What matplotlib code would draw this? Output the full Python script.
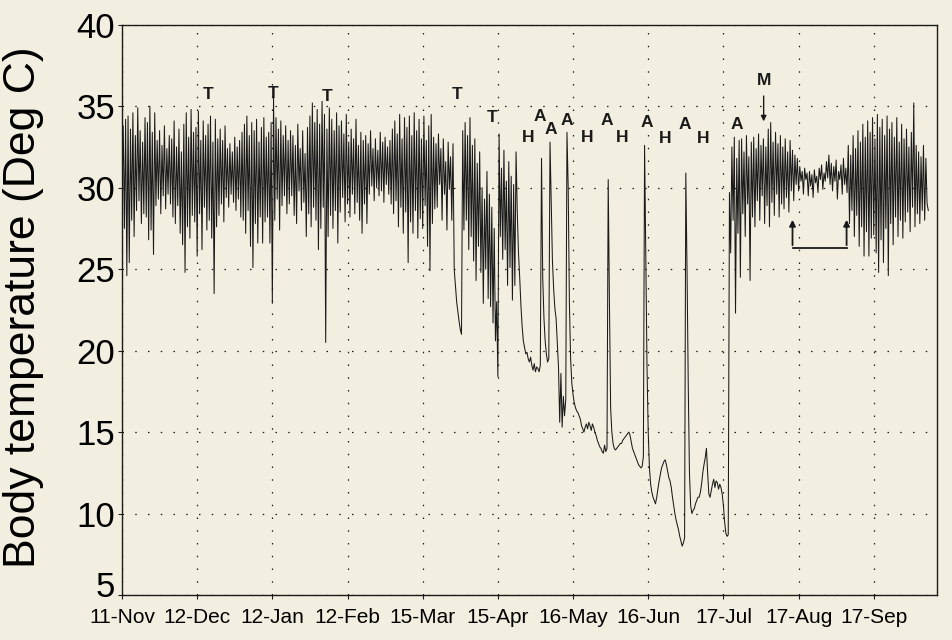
import numpy as np
import matplotlib
matplotlib.use("Agg")
import matplotlib.pyplot as plt
from matplotlib.transforms import ScaledTranslation

# Body temperature readings, one at 00:00 and one at 12:00 of each day,
# day 0 = 11-Nov.
tb_0h = [
    29.8, 27.5, 24.6, 25.4, 28.0, 27.0, 28.6, 29.2, 27.8, 28.4,
    28.2, 26.8, 27.4, 25.9, 28.9, 29.3, 28.4, 29.5, 28.7, 29.6,
    29.0, 28.2, 27.8, 28.9, 27.2, 26.5, 24.8, 27.6, 26.9, 28.3,
    27.9, 25.8, 28.4, 26.2, 28.8, 27.4, 28.0, 26.9, 23.5, 27.6,
    28.3, 29.0, 27.9, 29.4, 28.8, 29.6, 29.1, 28.6, 29.3, 28.2,
    28.0, 27.2, 28.6, 26.4, 25.1, 27.8, 26.6, 28.2, 26.6, 27.9,
    28.2, 26.6, 22.9, 28.0, 29.3, 27.4, 28.9, 29.5, 28.4, 29.0,
    29.5, 28.3, 27.8, 29.8, 28.6, 29.1, 27.0, 28.4, 27.6, 28.8,
    28.0, 26.2, 27.5, 28.8, 20.5, 27.0, 28.3, 27.5, 28.6, 26.6,
    28.5, 29.4, 27.9, 29.0, 28.2, 29.6, 28.4, 29.1, 28.0, 27.2,
    29.0, 27.8, 29.6, 30.1, 29.2, 30.0, 29.5, 29.8, 29.1, 30.2,
    29.6, 29.0, 28.4, 29.2, 27.6, 28.8, 27.2, 28.5, 25.4, 27.9,
    27.2, 28.6, 26.9, 28.1, 27.5, 28.9, 26.4, 24.9, 27.8, 28.7,
    28.8, 30.2, 28.0, 29.6, 27.4, 29.9, 28.0, 25.0, 23.0, 21.8,
    21.0, 27.4, 28.0, 26.2, 27.0, 25.5, 24.3, 26.4, 24.8, 22.9,
    25.0, 23.2, 22.7, 21.7, 20.6, 18.4, 27.0, 25.6, 26.2, 24.0,
    25.1, 23.1, 24.0, 28.5, 24.5, 21.5, 20.2, 19.9, 19.3, 19.1,
    19.2, 19.0, 18.7, 31.8, 22.0, 19.8, 19.5, 29.0, 23.8, 22.0,
    19.0, 18.6, 17.2, 17.0, 30.0, 19.5, 17.3, 16.5, 16.2, 15.8,
    15.2, 15.3, 15.2, 15.4, 15.5, 15.0, 14.5, 14.1, 13.8, 14.2,
    14.0, 23.0, 15.0, 14.0, 14.0, 14.2, 14.3, 14.6, 14.8, 15.0,
    14.4, 13.8, 13.4, 13.0, 12.8, 13.5, 26.0, 15.0, 11.8, 11.0,
    10.6, 11.5, 12.4, 13.0, 13.3, 12.6, 12.0, 11.0, 10.0, 9.3,
    8.6, 8.0, 8.5, 25.0, 12.5, 10.0, 10.3, 10.8, 11.0, 11.8,
    13.0, 14.0, 11.2, 11.4, 12.1, 12.0, 11.5, 11.6, 10.5, 8.8,
    8.7, 26.0, 28.0, 22.3, 27.2, 24.5, 28.4, 27.0, 29.0, 24.3,
    28.2, 27.6, 29.2, 28.0, 29.5, 27.8, 28.9, 27.6, 29.1, 28.3,
    29.6, 28.2, 29.0, 28.7, 29.4, 28.5, 29.8, 29.2, 30.2, 29.8,
    30.4, 29.6, 30.5, 29.5, 30.1, 29.4, 30.3, 29.7, 30.5, 29.9,
    30.4, 30.6, 30.2, 29.8, 30.4, 29.3, 30.5, 29.6, 30.2, 29.7,
    27.8, 28.6, 27.0, 28.3, 26.4, 27.6, 25.8, 27.3, 25.8, 26.9,
    27.1, 26.0, 24.8, 26.8, 25.4, 27.5, 24.6, 27.8, 26.5, 28.2,
    27.0, 28.0, 26.9, 27.9, 28.5, 27.3, 28.8, 27.6, 28.4, 27.8,
    28.6, 28.0, 29.0,
]
tb_12h = [
    33.8, 34.2, 34.4, 33.6, 34.6, 33.2, 34.9, 33.5, 32.8, 34.3,
    34.0, 35.0, 33.4, 34.6, 32.9, 33.5, 32.6, 33.8, 32.4, 33.2,
    33.0, 34.1, 32.5, 33.6, 32.2, 33.9, 34.6, 33.1, 34.8, 33.4,
    33.7, 34.7, 32.9, 34.1, 33.2, 33.9, 34.4, 32.8, 34.2, 33.0,
    33.6, 32.9, 33.8, 32.4, 32.7, 32.2, 33.1, 32.5, 32.9, 33.4,
    33.9, 34.4, 33.2, 34.0, 33.5, 34.2, 32.8, 33.7, 34.3, 33.1,
    33.4, 34.0, 35.6, 34.3, 33.6, 34.1, 33.2, 33.8, 32.9, 33.5,
    33.2, 32.6, 33.9, 32.4, 33.5, 32.1, 33.7, 34.4, 35.2, 34.0,
    34.8, 33.9, 35.3, 34.5, 33.6, 34.9, 34.2, 33.5, 34.6, 33.8,
    34.1, 33.3, 34.5, 32.8, 33.6, 33.0, 34.2, 32.6, 33.4, 32.9,
    33.2, 32.7, 33.5, 32.4, 33.0, 32.3, 33.4, 32.8, 33.1, 32.5,
    32.9, 33.6, 34.1, 33.3, 34.5, 33.0, 34.3, 33.7, 34.4, 33.2,
    34.6, 33.5, 34.2, 33.0, 34.4, 32.9, 33.8, 34.5, 33.1, 32.7,
    33.3, 32.4, 33.0, 31.6, 32.8, 31.9, 32.7, 24.0, 22.4, 21.3,
    33.5, 34.0, 33.2, 34.3, 32.6, 33.0, 31.5, 32.2, 30.0, 29.3,
    31.0, 29.6, 28.8, 27.5, 23.0, 33.3, 31.2, 32.3, 30.4, 31.6,
    30.7, 30.2, 32.2, 26.0, 22.8, 20.6, 19.8, 19.5, 19.6, 18.8,
    18.7, 18.9, 19.1, 24.5, 20.6, 19.3, 32.8, 25.5, 22.6, 20.5,
    15.6, 15.3, 16.0, 33.4, 22.9, 18.0, 16.8, 16.3, 16.0, 15.4,
    15.0, 15.5, 15.6, 15.1, 15.3, 14.8, 14.3, 14.0, 13.7, 13.8,
    30.5, 16.5, 14.3, 13.9, 14.1, 14.3, 14.5, 14.7, 14.9, 14.8,
    14.0, 13.6, 13.2, 12.9, 12.9, 32.6, 19.0, 12.8, 11.3, 10.8,
    11.0, 12.0, 12.8, 13.2, 13.0, 12.2, 11.6, 10.5, 9.6, 9.0,
    8.3, 8.2, 30.9, 18.0, 10.5, 10.2, 10.6, 11.0, 11.3, 12.5,
    13.4, 12.5, 11.0, 11.8, 11.6, 11.9, 11.8, 11.2, 9.5, 8.6,
    29.7, 32.5, 33.1, 31.8, 32.9, 33.0, 32.2, 33.2, 31.9, 32.8,
    33.1, 32.4, 33.3, 32.6, 33.0, 32.5, 33.6, 34.0, 32.8, 33.4,
    32.7, 33.2, 32.5, 33.0, 32.2, 32.9, 32.3, 32.0, 31.8, 31.3,
    31.0, 31.2, 30.9, 31.0, 30.8, 31.1, 30.7, 31.2, 31.4, 30.9,
    31.6, 32.0, 31.5, 31.3, 31.7, 31.0, 31.4, 31.8, 31.2, 32.6,
    32.0, 33.2, 32.4, 33.5, 32.8, 33.9, 33.1, 34.1, 33.4, 34.3,
    33.0, 34.5, 33.7, 34.2, 33.2, 34.4, 33.6, 34.0, 33.1, 34.3,
    32.8, 33.9, 33.0, 33.6, 32.5, 33.4, 35.2, 32.6, 32.2, 31.9,
    32.6, 31.8, 28.6,
]

# x axis: days since 11-Nov, labels every 31 days
tick_days = [0, 31, 62, 93, 124, 155, 186, 217, 248, 279, 310]
tick_labels = ["11-Nov", "12-Dec", "12-Jan", "12-Feb", "15-Mar", "15-Apr",
               "16-May", "16-Jun", "17-Jul", "17-Aug", "17-Sep"]

# Event letters (T = torpor, H = hibernation, A = arousal) above the trace
event_text = ["T", "T", "T", "T", "T", "H", "A", "A", "A", "H", "A", "H",
              "A", "H", "A", "H", "A"]
event_day = [35.6, 62.3, 84.7, 138.1, 152.6, 167.3, 172.3, 176.9, 183.5,
             192.0, 200.0, 206.3, 216.5, 224.1, 231.9, 239.5, 253.4]
event_tb = [35.7, 35.8, 35.6, 35.7, 34.3, 33.1, 34.4, 33.6, 34.1, 33.1,
            34.1, 33.1, 34.0, 33.0, 33.9, 33.0, 33.9]

# "M" marker and bracket under the calm stretch in August
m_day, m_text_tb, m_tip_tb = 264.6, 36.6, 33.9
bracket_days = [276.5, 298.8]
bracket_low, bracket_tip = 26.3, 28.2

bg = "#f3efe0"
ink = "#1a1a1a"

days = np.arange(len(tb_0h))
t = np.column_stack((days, days + 0.5)).ravel()
tb = np.column_stack((tb_0h, tb_12h)).ravel()

fig = plt.figure(figsize=(9.53, 6.40), dpi=100, facecolor=bg)
ax = fig.add_axes([0.128, 0.0703, 0.855, 0.891], facecolor=bg)

ax.plot(t, tb, color=ink, lw=0.75)

ax.set_xlim(0, 336)
ax.set_ylim(5, 40)
ax.set_yticks(range(5, 41, 5))
ax.set_xticks(tick_days)
ax.set_xticklabels(tick_labels)

ax.grid(True, color=ink, linestyle=(0, (1.2, 9)), linewidth=0.9)
for s in ax.spines.values():
    s.set_color(ink)
    s.set_linewidth(1.0)

ax.tick_params(axis="y", labelsize=25, length=3, pad=2, color=ink,
               labelfontfamily="Liberation Sans")
ax.tick_params(axis="x", labelsize=15, length=3, pad=6, color=ink,
               labelfontfamily="Liberation Sans")

# lift the bottom "5" a little so it does not run into "11-Nov"
low_label = ax.yaxis.get_major_ticks()[0].label1
low_label.set_transform(low_label.get_transform()
                        + ScaledTranslation(0, 8 / 72, fig.dpi_scale_trans))

# y label placed in figure coordinates so it sits fully inside the left margin
fig.text(24 / 953, 1 - 307 / 640, "Body temperature (Deg C)", fontsize=32,
         family="Liberation Sans", rotation=90, ha="center", va="center")

for txt, d, v in zip(event_text, event_day, event_tb):
    ax.text(d, v, txt, ha="center", va="center", fontsize=12.5,
            fontweight="bold", family="Liberation Sans", color=ink)

ax.text(m_day, m_text_tb, "M", ha="center", va="center", fontsize=12.5,
        fontweight="bold", family="Liberation Sans", color=ink)
ax.annotate("", xy=(m_day, m_tip_tb), xytext=(m_day, m_text_tb - 0.8),
            arrowprops=dict(arrowstyle="-|>", color=ink, lw=1.0,
                            mutation_scale=8))

ax.plot([bracket_days[0], bracket_days[1]], [bracket_low, bracket_low],
        color=ink, lw=1.3)
for bd in bracket_days:
    ax.annotate("", xy=(bd, bracket_tip), xytext=(bd, bracket_low),
                arrowprops=dict(arrowstyle="-|>", color=ink, lw=1.3,
                                mutation_scale=9))

fig.savefig("out.png", dpi=100, facecolor=bg)
